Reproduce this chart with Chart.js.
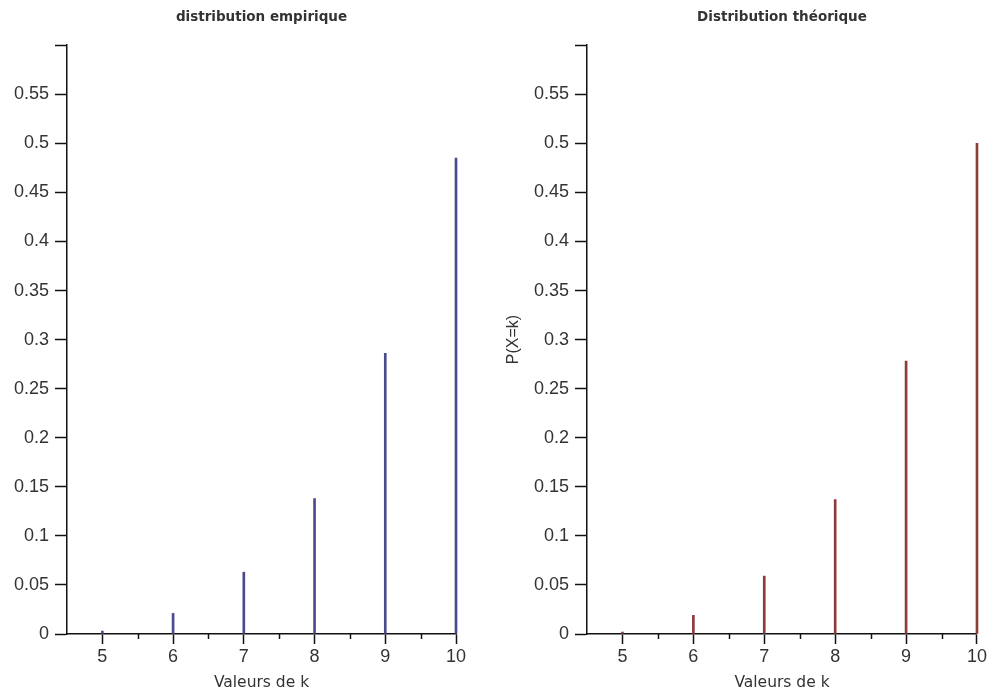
<!DOCTYPE html>
<html><head><meta charset="utf-8">
<script src="https://cdn.jsdelivr.net/npm/chart.js@4/dist/chart.umd.min.js"></script>
<style>
html,body{margin:0;padding:0;background:#fff;}
#wrap{position:relative;width:989px;height:692px;}
.box{position:absolute;top:0;height:692px;}
#b1{left:0;width:494px;}
#b2{left:494px;width:495px;}
</style></head><body>
<div id="wrap">
<div class="box" id="b1"><canvas id="c1"></canvas></div>
<div class="box" id="b2"><canvas id="c2"></canvas></div>
</div>
<script>
const kValues = [5, 6, 7, 8, 9, 10];
const empirique = [0.003, 0.021, 0.063, 0.138, 0.286, 0.485];
const theorique = [0.002, 0.019, 0.059, 0.137, 0.278, 0.5];
const xMajorTicks = [5, 6, 7, 8, 9, 10];
const xMinorTicks = [5.5, 6.5, 7.5, 8.5, 9.5];
const yTicks = [0, 0.05, 0.1, 0.15, 0.2, 0.25, 0.3, 0.35, 0.4, 0.45, 0.5, 0.55, 0.6];
const yTickLabels = ['0','0.05','0.1','0.15','0.2','0.25','0.3','0.35','0.4','0.45','0.5','0.55',''];

const tickFont = {family: 'Liberation Sans', size: 18};
const minorTicksPlugin = {
  id: 'minorTicks',
  afterDraw(chart) {
    const xs = chart.scales.x, ctx = chart.ctx;
    const y0 = chart.chartArea.bottom;
    ctx.save();
    ctx.strokeStyle = '#111';
    ctx.lineWidth = 1.5;
    xMinorTicks.forEach(v => {
      const px = Math.round(xs.getPixelForValue(v)) + 0.5;
      ctx.beginPath(); ctx.moveTo(px, y0); ctx.lineTo(px, y0 + 5); ctx.stroke();
    });
    ctx.restore();
  }
};

function makeChart(id, title, values, color, yWidth, padRight, yTitle) {
  return new Chart(document.getElementById(id), {
    type: 'bar',
    data: {
      datasets: [{
        data: kValues.map((k, i) => ({x: k, y: values[i]})),
        backgroundColor: color,
        borderWidth: 0,
        barThickness: 2,
        clip: false
      }]
    },
    options: {
      responsive: true,
      maintainAspectRatio: false,
      animation: false,
      layout: {padding: {left: 0, right: padRight, top: 0, bottom: 0}},
      plugins: {
        legend: {display: false},
        tooltip: {enabled: false},
        title: {
          display: true, text: title, fullSize: false,
          color: '#333',
          font: {family: 'DejaVu Sans', size: 13.5, weight: 'bold'},
          padding: {top: 9, bottom: 20}
        }
      },
      scales: {
        x: {
          type: 'linear', min: 4.5, max: 10, offset: false,
          afterBuildTicks: s => { s.ticks = xMajorTicks.map(v => ({value: v})); },
          afterFit: s => { s.height = 58; },
          ticks: {color: '#333', font: tickFont, padding: 2, maxRotation: 0,
                  callback: v => String(v)},
          grid: {display: true, offset: false, drawOnChartArea: false, drawTicks: true, tickLength: 10,
                 tickColor: '#111', tickWidth: 1.5},
          border: {display: true, color: '#111', width: 1.5},
          title: {display: true, text: 'Valeurs de k', color: '#333',
                  font: {family: 'DejaVu Sans', size: 15.5}, padding: {top: 0, bottom: 0}}
        },
        y: {
          type: 'linear', min: 0, max: 0.6,
          afterBuildTicks: s => { s.ticks = yTicks.map(v => ({value: v})); },
          afterFit: s => { s.width = yWidth; },
          ticks: {color: '#333', font: tickFont, padding: 6,
                  callback: (v, i) => yTickLabels[i]},
          grid: {display: true, drawOnChartArea: false, drawTicks: true, tickLength: 12,
                 tickColor: '#111', tickWidth: 1.5},
          border: {display: true, color: '#111', width: 1.5},
          title: {display: !!yTitle, text: yTitle || '', color: '#333',
                  font: {family: 'Liberation Sans', size: 16}, padding: {top: 10, bottom: 0}}
        }
      }
    },
    plugins: [minorTicksPlugin]
  });
}

makeChart('c1', 'distribution empirique', empirique, '#4a4a8e', 67, 38, null);
makeChart('c2', 'Distribution théorique', theorique, '#8e3b3b', 93, 12, 'P(X=k)');
</script>
</body></html>
